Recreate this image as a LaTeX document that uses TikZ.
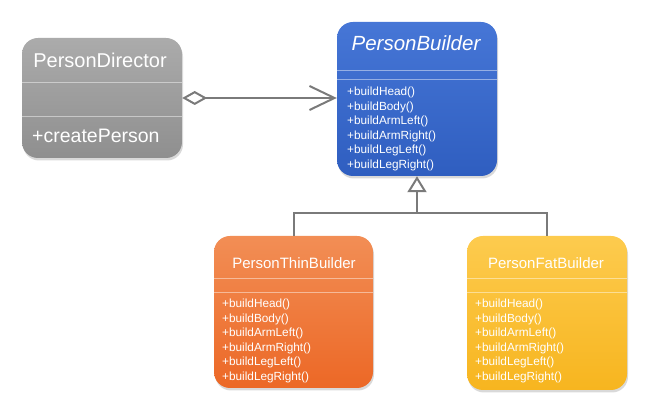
\documentclass[tikz,border=0pt]{standalone}
\usepackage{fontspec}
\setmainfont{Liberation Sans}
\usetikzlibrary{shadows,arrows.meta}
\definecolor{dirtop}{HTML}{ABABAB}
\definecolor{dirbot}{HTML}{8F8F8F}
\definecolor{pbtop}{HTML}{4676D6}
\definecolor{pbbot}{HTML}{2F5EC0}
\definecolor{thtop}{HTML}{F28E55}
\definecolor{thbot}{HTML}{EC6826}
\definecolor{fttop}{HTML}{FDCB4E}
\definecolor{ftbot}{HTML}{F7B51F}
\definecolor{conn}{HTML}{7A7A7A}
\begin{document}
\begin{tikzpicture}[x=1pt,y=-1pt,
  classbox/.style={rectangle, rounded corners=16pt, draw=none, inner sep=0pt,
    drop shadow={opacity=0.3, shadow xshift=1pt, shadow yshift=-2.5pt}},
  sepline/.style={draw=white, draw opacity=0.45, line width=0.9pt},
  titletext/.style={text=white, inner sep=0pt},
  methods/.style={text=white, inner sep=0pt, anchor=north west, align=left,
    font=\fontsize{11.8}{14.5}\selectfont},
  conline/.style={draw=conn, line width=2pt}]
\useasboundingbox (0,0) rectangle (649,411);

% PersonDirector
\node[classbox, top color=dirtop, bottom color=dirbot, minimum width=160pt, minimum height=120pt] (dir) at (102,98) {};
\draw[sepline] (dir.west |- 0,82) -- (dir.east |- 0,82);
\draw[sepline] (dir.west |- 0,116) -- (dir.east |- 0,116);
\node[titletext, font=\fontsize{20}{22}\selectfont] (dirname) at (100,60) {PersonDirector};
\node[titletext, anchor=west, font=\fontsize{19.5}{22}\selectfont] (dirop) at (32,136) {+createPerson};

% PersonBuilder
\node[classbox, top color=pbtop, bottom color=pbbot, minimum width=160pt, minimum height=154pt] (pb) at (417,99) {};
\draw[sepline] (pb.west |- 0,70) -- (pb.east |- 0,70);
\draw[sepline] (pb.west |- 0,79) -- (pb.east |- 0,79);
\node[titletext, font=\fontsize{20.5}{22}\selectfont\itshape] (pbname) at (416,43) {PersonBuilder};
\node[methods] (pbops) at (347,87) {+buildHead()\\+buildBody()\\+buildArmLeft()\\+buildArmRight()\\+buildLegLeft()\\+buildLegRight()};

% PersonThinBuilder
\node[classbox, top color=thtop, bottom color=thbot, minimum width=159pt, minimum height=152pt] (thin) at (293.5,312) {};
\draw[sepline] (thin.west |- 0,278) -- (thin.east |- 0,278);
\draw[sepline] (thin.west |- 0,292) -- (thin.east |- 0,292);
\node[titletext, font=\fontsize{15}{17}\selectfont] (thinname) at (294,263) {PersonThinBuilder};
\node[methods] (thinops) at (222,299) {+buildHead()\\+buildBody()\\+buildArmLeft()\\+buildArmRight()\\+buildLegLeft()\\+buildLegRight()};

% PersonFatBuilder
\node[classbox, top color=fttop, bottom color=ftbot, minimum width=160pt, minimum height=154pt] (fat) at (547,313) {};
\draw[sepline] (fat.west |- 0,278) -- (fat.east |- 0,278);
\draw[sepline] (fat.west |- 0,292) -- (fat.east |- 0,292);
\node[titletext, font=\fontsize{15}{17}\selectfont] (fatname) at (546,263) {PersonFatBuilder};
\node[methods] (fatops) at (475,299) {+buildHead()\\+buildBody()\\+buildArmLeft()\\+buildArmRight()\\+buildLegLeft()\\+buildLegRight()};

% aggregation
\draw[conline, {Diamond[open, length=25pt, width=14pt, line width=2pt]}-{Straight Barb[length=25pt, width=24pt, line width=2pt]}]
  (dir.east) -- (dir.east -| pb.west);

% inheritance
\coordinate (junc) at (417,213);
\draw[conline] (thin.north) |- (junc) -| (fat.north);
\draw[conline, -{Triangle[open, length=16pt, width=19pt, line width=2pt]}] (junc) -- (pb.south);
\end{tikzpicture}
\end{document}
